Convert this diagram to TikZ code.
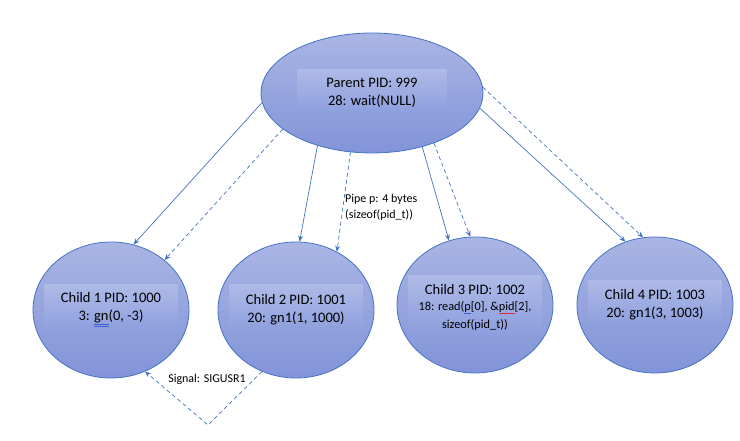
\documentclass[tikz,border=0pt]{standalone}
\usepackage{fontspec}
\setmainfont{Carlito}
\usetikzlibrary{arrows.meta, shapes.geometric}

\definecolor{linkblue}{HTML}{4472C4}
\definecolor{filltop}{HTML}{A9B5E4}
\definecolor{fillbot}{HTML}{8294D8}
\definecolor{boxtop}{HTML}{AEBAE7}
\definecolor{boxbot}{HTML}{8A9CDC}
\definecolor{spellblue}{HTML}{3A5FD0}
\definecolor{spellred}{HTML}{E03030}

\newcommand{\blueul}[1]{{\color{spellblue}\underline{\underline{\color{black}#1}}}}
\newcommand{\blueus}[1]{{\color{spellblue}\underline{\color{black}#1}}}
\newcommand{\redul}[1]{{\color{spellred}\underline{\color{black}#1}}}
\newcommand{\codesize}{\fontsize{12.3}{15}\selectfont}

\begin{document}
\begin{tikzpicture}[x=1pt, y=1pt,
  proc/.style = {ellipse, draw=linkblue, line width=0.8pt, top color=filltop, bottom color=fillbot, inner sep=0pt},
  child/.style = {proc, minimum width=156pt, minimum height=136pt},
  labelbox/.style = {rectangle, top color=boxtop, bottom color=boxbot, inner sep=0pt, align=center, font=\fontsize{14.5}{18}\selectfont},
  link/.style = {draw=linkblue, line width=0.7pt, -{Stealth[length=6pt, width=5pt]}},
  pipe/.style = {link, dash pattern=on 4pt off 3pt},
  note/.style = {inner sep=0pt, align=left, font=\fontsize{12}{16}\selectfont}]

\useasboundingbox (0,0) rectangle (740,441);

% processes
\node[proc, minimum width=222pt, minimum height=120pt] (parent) at (372,348) {};
\node[labelbox, minimum width=149pt, minimum height=47pt] (ptext) at (parent) {Parent PID: 999\\28: wait(NULL)};

\node[child] (c1) at (111,131) {};
\node[labelbox, minimum width=133pt, minimum height=50pt] (t1) at (c1) {Child 1 PID: 1000\\3: \blueul{gn}(0, -3)};
\node[child] (c2) at (296,131) {};
\node[labelbox, minimum width=134pt, minimum height=50pt] (t2) at (c2) {Child 2 PID: 1001\\20: gn1(1, 1000)};
\node[child] (c3) at (475,136) {};
\node[labelbox, minimum width=134pt, minimum height=62pt] (t3) at ([yshift=-2pt]c3.center) {Child 3 PID: 1002\\[-2pt]\codesize 18: read(\blueus{p}[0], \&\redul{pid}[2],\\\codesize sizeof(pid\_t))};
\node[child] (c4) at (655,136) {};
\node[labelbox, minimum width=133pt, minimum height=49pt] (t4) at (c4) {Child 4 PID: 1003\\20: gn1(3, 1003)};

% fork and pipe
\draw[link] (parent.185) -- (c1.71);
\draw[pipe] (parent.202) -- (c1.43);
\draw[link] (parent.224) -- (c2.87);
\draw[pipe] (parent.250) -- (c2.55);
\draw[link] (parent.313) -- (c3.112);
\draw[pipe] (parent.321) -- (c3.94);
\draw[link] (parent.352) -- (c4.115);
\draw[pipe] (parent.3) -- (c4.100);

% signal
\coordinate (turn) at (208,16);
\draw[pipe] (c2.241) -- (turn) -- (c1.299);

\node[note, anchor=west] (pipelbl) at (345,234) {Pipe p: 4 bytes\\(sizeof(pid\_t))};
\node[note] (siglbl) at (207,62) {Signal: SIGUSR1};
\end{tikzpicture}
\end{document}
